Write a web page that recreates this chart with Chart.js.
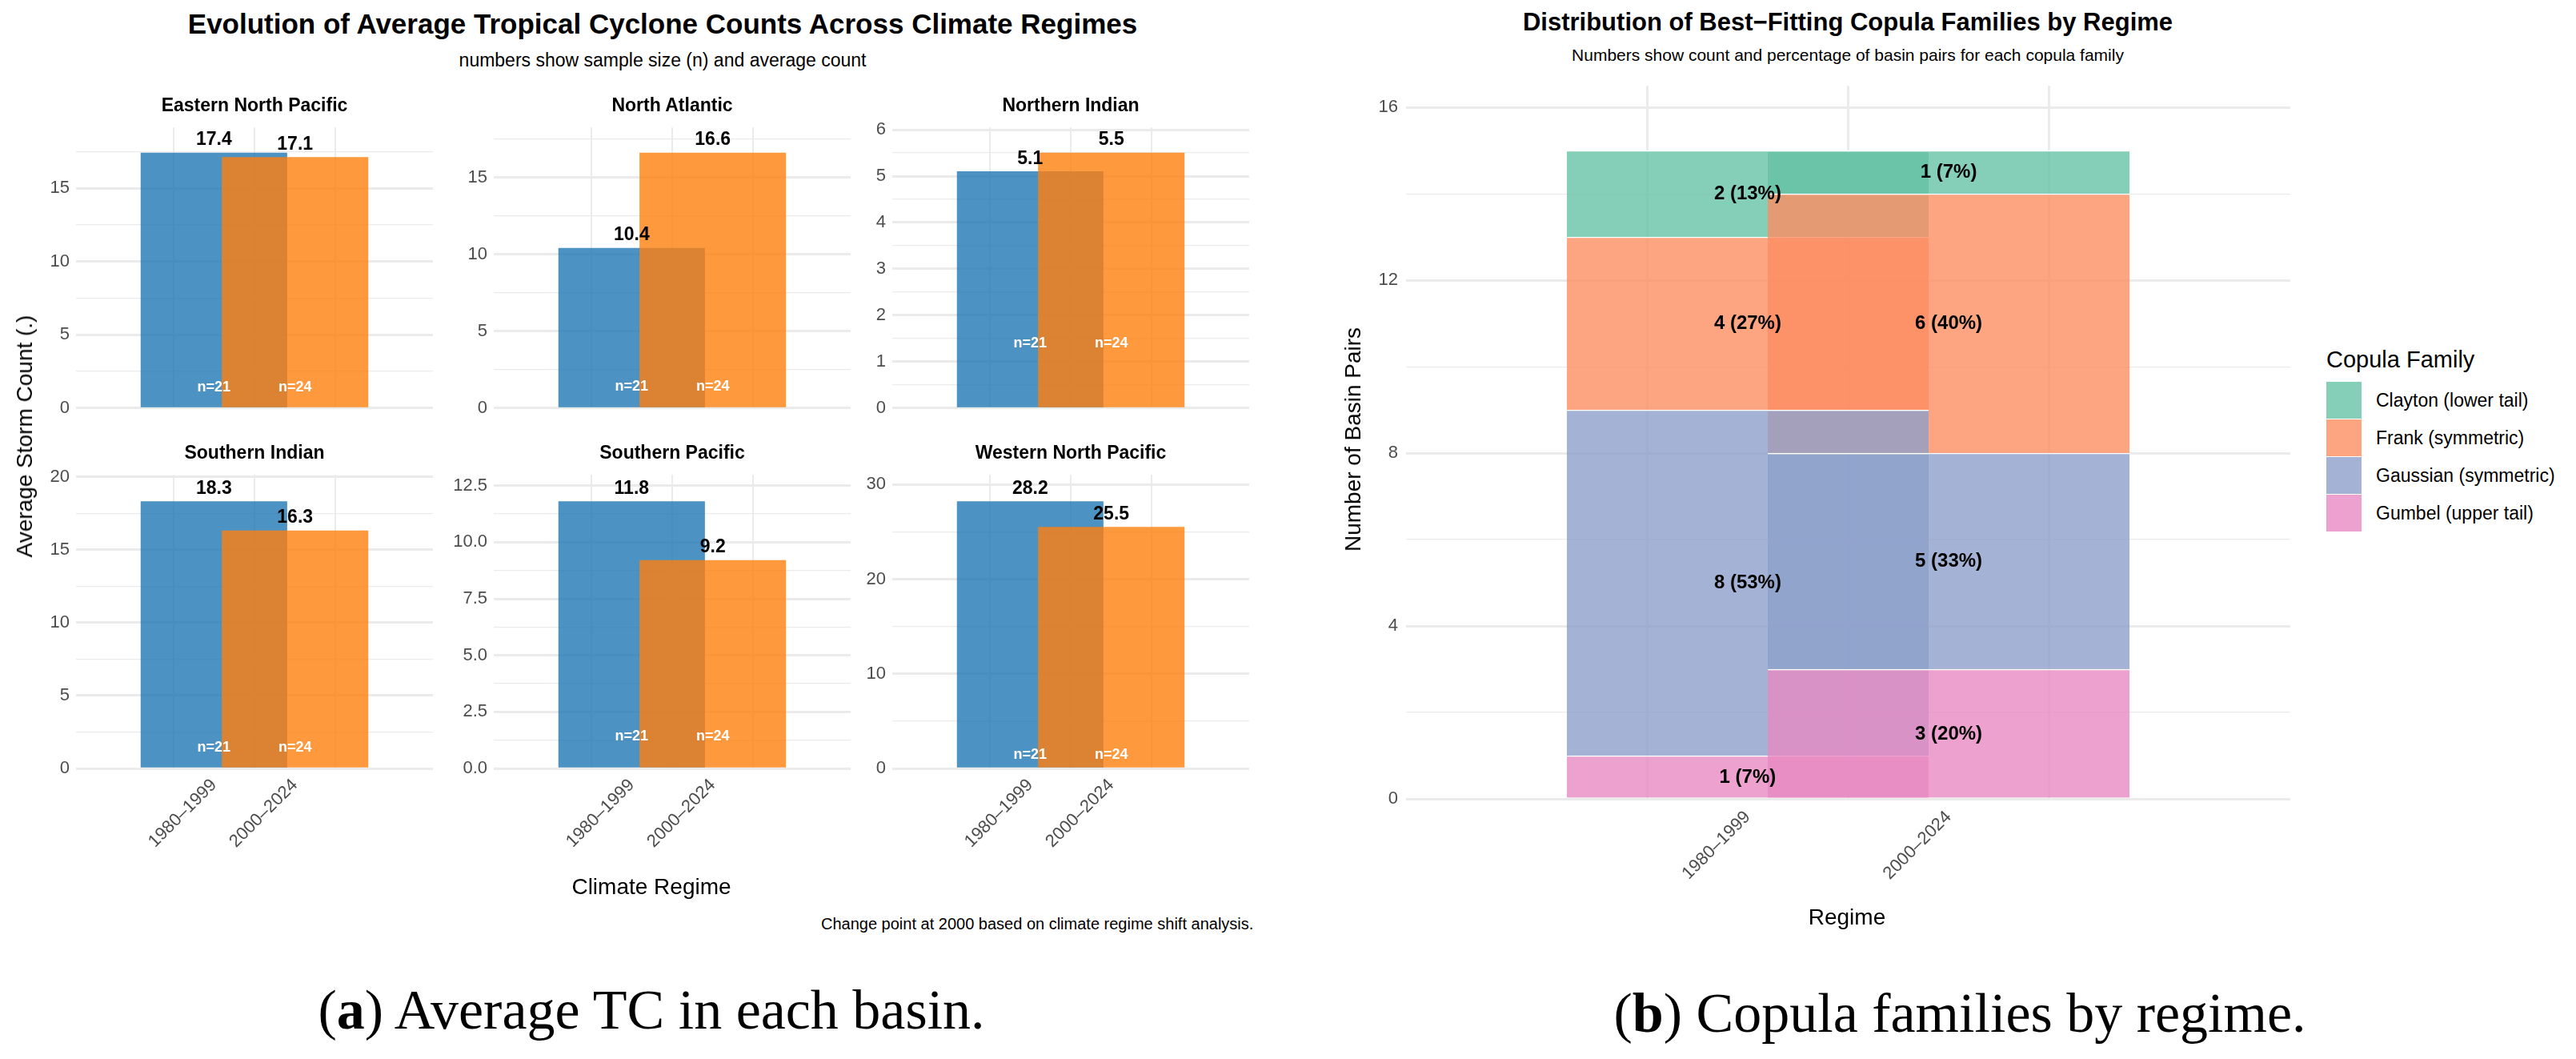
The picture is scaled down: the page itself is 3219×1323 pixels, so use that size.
<!DOCTYPE html>
<html>
<head>
<meta charset="utf-8">
<script src="https://cdn.jsdelivr.net/npm/chart.js@4/dist/chart.umd.min.js"></script>
<style>
  body { margin: 0; background: #fff; width: 3219px; height: 1323px; position: relative; overflow: hidden;
         font-family: "Liberation Sans", Arial, sans-serif; }
  .t { position: absolute; white-space: nowrap; color: #000; }
  .c { transform: translate(-50%, -50%); }
  canvas { position: absolute; }
  .key { position: absolute; width: 44px; height: 46px; }
</style>
</head>
<body>
<script>
// ---- data ----
const basins = ["Eastern North Pacific", "North Atlantic", "Northern Indian",
                "Southern Indian", "Southern Pacific", "Western North Pacific"];
const regimes = ["1980–1999", "2000–2024"];
const avg1980 = [17.4, 10.4, 5.1, 18.3, 11.8, 28.2];
const avg2000 = [17.1, 16.6, 5.5, 16.3, 9.2, 25.5];
const sampleN = [21, 24];
const tickSteps = [5, 5, 1, 5, 2.5, 10];

const families = ["Clayton (lower tail)", "Frank (symmetric)", "Gaussian (symmetric)", "Gumbel (upper tail)"];
const counts1980 = [2, 4, 8, 1];
const counts2000 = [1, 6, 5, 3];
const copulaTicks = [0, 4, 8, 12, 16];

const familyColors = ["rgba(102,194,165,0.8)", "rgba(252,141,98,0.8)", "rgba(141,160,203,0.8)", "rgba(231,138,195,0.8)"];
const regimeColors = ["rgba(31,119,180,0.8)", "rgba(255,127,14,0.8)"];
const GRID = "#ebebeb";

function text(str, x, y, css, centered = true) {
  const d = document.createElement("div");
  d.className = "t" + (centered ? " c" : "");
  d.textContent = str;
  d.style.left = x + "px"; d.style.top = y + "px";
  d.style.cssText += css;
  document.body.appendChild(d);
  return d;
}

function makeCanvas(left, top, w, h) {
  const cv = document.createElement("canvas");
  cv.width = w; cv.height = h;
  cv.style.left = left + "px"; cv.style.top = top + "px";
  cv.style.width = w + "px"; cv.style.height = h + "px";
  document.body.appendChild(cv);
  return cv;
}

// draws value / n labels on bars
const barText = {
  id: "barText",
  afterDatasetsDraw(chart, args, opts) {
    const ctx = chart.ctx;
    ctx.save();
    ctx.textAlign = "center";
    ctx.textBaseline = "middle";
    (opts.items || []).forEach(it => {
      const x = chart.scales.x.getPixelForValue(it.x);
      const y = chart.scales.y.getPixelForValue(it.y) + (it.dy || 0);
      ctx.font = it.font;
      ctx.fillStyle = it.color;
      ctx.fillText(it.text, x, y);
    });
    ctx.restore();
  }
};

// ---- left: faceted bars ----
text("Evolution of Average Tropical Cyclone Counts Across Climate Regimes", 828, 30, "font-size:35px;font-weight:bold;");
text("numbers show sample size (n) and average count", 828, 75, "font-size:23px;");

const plotLefts = [95, 617, 1115];
const plotW = 446;
const plotTops = [153, 587];
const plotH = 373;
const yW = 70;

basins.forEach((name, i) => {
  const col = i % 3, row = Math.floor(i / 3);
  const step = tickSteps[i];
  const vals = [avg1980[i], avg2000[i]];
  const ymax = Math.max(...vals) * 1.1;
  const xH = row === 1 ? 130 : 0;
  const cv = makeCanvas(plotLefts[col] - yW, plotTops[row] - 15, yW + plotW + 10, plotH + 15 + xH + 5);
  text(name, plotLefts[col] + plotW / 2, plotTops[row] - 22, "font-size:23px;font-weight:bold;");

  const items = [];
  vals.forEach((v, k) => {
    items.push({ x: k, y: v, dy: -16, text: v.toFixed(1), font: "bold 23px 'Liberation Sans'", color: "#000" });
    items.push({ x: k, y: 1.4, text: "n=" + sampleN[k], font: "bold 18px 'Liberation Sans'", color: "#fff" });
  });

  new Chart(cv, {
    type: "bar",
    data: {
      datasets: [{
        data: vals.map((v, k) => ({ x: k, y: v })),
        backgroundColor: regimeColors,
        barThickness: plotW / 2.2 * 0.9
      }]
    },
    options: {
      responsive: false, animation: false, devicePixelRatio: 1,
      layout: { padding: { top: 15, right: 10, bottom: 5, left: 0 } },
      plugins: { legend: { display: false }, tooltip: { enabled: false }, barText: { items } },
      scales: {
        x: {
          type: "linear", min: -0.6, max: 1.6,
          afterBuildTicks: s => { s.ticks = [{ value: 0 }, { value: 1 }]; },
          afterFit: s => { s.height = xH; },
          border: { display: false },
          grid: { color: GRID, lineWidth: 2, drawTicks: false },
          ticks: {
            display: row === 1, minRotation: 45, maxRotation: 45, padding: 8,
            color: "#4d4d4d", font: { size: 22, family: "Liberation Sans" },
            callback: v => regimes[v]
          }
        },
        y: {
          min: 0, max: ymax,
          afterBuildTicks: s => {
            const t = [];
            for (let v = 0; v <= ymax + 1e-9; v += step / 2) t.push({ value: v });
            s.ticks = t;
          },
          afterFit: s => { s.width = yW; },
          border: { display: false },
          grid: {
            color: GRID, drawTicks: false,
            lineWidth: c => (Math.abs(c.tick.value / step - Math.round(c.tick.value / step)) < 1e-6 ? 3 : 1.2)
          },
          ticks: {
            color: "#4d4d4d", padding: 8, font: { size: 22, family: "Liberation Sans" },
            callback: v => {
              if (Math.abs(v / step - Math.round(v / step)) > 1e-6) return "";
              return step % 1 ? v.toFixed(1) : String(v);
            }
          }
        }
      }
    },
    plugins: [barText]
  });
});

const ylab = text("Average Storm Count (.)", 31, 545, "font-size:28px;");
ylab.style.transform = "translate(-50%,-50%) rotate(-90deg)";
text("Climate Regime", 814, 1108, "font-size:28px;");
const cap = text("Change point at 2000 based on climate regime shift analysis.", 0, 1143, "font-size:20px;", false);
cap.style.left = (1566 - cap.offsetWidth) + "px";
text("", 814, 1262, "font-size:70px;font-family:'Liberation Serif',serif;").innerHTML =
  "(<b>a</b>) Average TC in each basin.";

// ---- right: stacked copula families ----
text("Distribution of Best−Fitting Copula Families by Regime", 2309, 28, "font-size:31px;font-weight:bold;");
text("Numbers show count and percentage of basin pairs for each copula family", 2309, 69, "font-size:21px;");

const rLeft = 1757, rTop = 99, rW = 1105, rH = 899, rYW = 75;
const cvR = makeCanvas(rLeft - rYW, rTop - 15, rYW + rW + 10, rH + 15 + 140);
const totals = [counts1980, counts2000].map(a => a.reduce((s, v) => s + v, 0));
const order = [3, 2, 1, 0]; // bottom to top: Gumbel, Gaussian, Frank, Clayton
const rItems = [];
[counts1980, counts2000].forEach((arr, k) => {
  let base = 0;
  order.forEach(f => {
    const v = arr[f];
    rItems.push({ x: k, y: base + v / 2, text: v + " (" + Math.round(v / totals[k] * 100) + "%)",
                  font: "bold 24px 'Liberation Sans'", color: "#000" });
    base += v;
  });
});

new Chart(cvR, {
  type: "bar",
  data: {
    datasets: order.map(f => ({
      label: families[f],
      data: [{ x: 0, y: counts1980[f] }, { x: 1, y: counts2000[f] }],
      backgroundColor: familyColors[f],
      borderColor: "#fff", borderWidth: { top: 1.5 }, borderSkipped: "bottom",
      barThickness: rW / 2.2 * 0.9
    }))
  },
  options: {
    responsive: false, animation: false, devicePixelRatio: 1,
    layout: { padding: { top: 15, right: 10, bottom: 5, left: 0 } },
    plugins: { legend: { display: false }, tooltip: { enabled: false }, barText: { items: rItems } },
    scales: {
      x: {
        type: "linear", min: -0.6, max: 1.6, stacked: true,
        afterBuildTicks: s => { s.ticks = [{ value: 0 }, { value: 1 }]; },
        afterFit: s => { s.height = 135; },
        border: { display: false },
        grid: { color: GRID, lineWidth: 3, drawTicks: false },
        ticks: {
          minRotation: 45, maxRotation: 45, padding: 10,
          color: "#4d4d4d", font: { size: 22, family: "Liberation Sans" },
          callback: v => regimes[v]
        }
      },
      y: {
        min: 0, max: 16.5, stacked: true,
        afterBuildTicks: s => { s.ticks = [0, 2, 4, 6, 8, 10, 12, 14, 16].map(v => ({ value: v })); },
        afterFit: s => { s.width = rYW; },
        border: { display: false },
        grid: { color: GRID, drawTicks: false, lineWidth: c => (copulaTicks.includes(c.tick.value) ? 3 : 1.2) },
        ticks: {
          color: "#4d4d4d", padding: 10, font: { size: 22, family: "Liberation Sans" },
          callback: v => (copulaTicks.includes(v) ? String(v) : "")
        }
      }
    }
  },
  plugins: [barText]
});

const ylabR = text("Number of Basin Pairs", 1691, 549, "font-size:28px;");
ylabR.style.transform = "translate(-50%,-50%) rotate(-90deg)";
text("Regime", 2308, 1146, "font-size:28px;");

// legend
text("Copula Family", 2907, 433, "font-size:29px;", false);
families.forEach((f, i) => {
  const k = document.createElement("div");
  k.className = "key";
  k.style.left = "2907px"; k.style.top = (477 + i * 47) + "px";
  k.style.background = familyColors[i];
  document.body.appendChild(k);
  text(f, 2969, 489 + i * 47, "font-size:23px;", false).style.top = (477 + i * 47 + 10) + "px";
});

text("", 2449, 1266, "font-size:70px;font-family:'Liberation Serif',serif;").innerHTML =
  "(<b>b</b>) Copula families by regime.";
</script>
</body>
</html>
